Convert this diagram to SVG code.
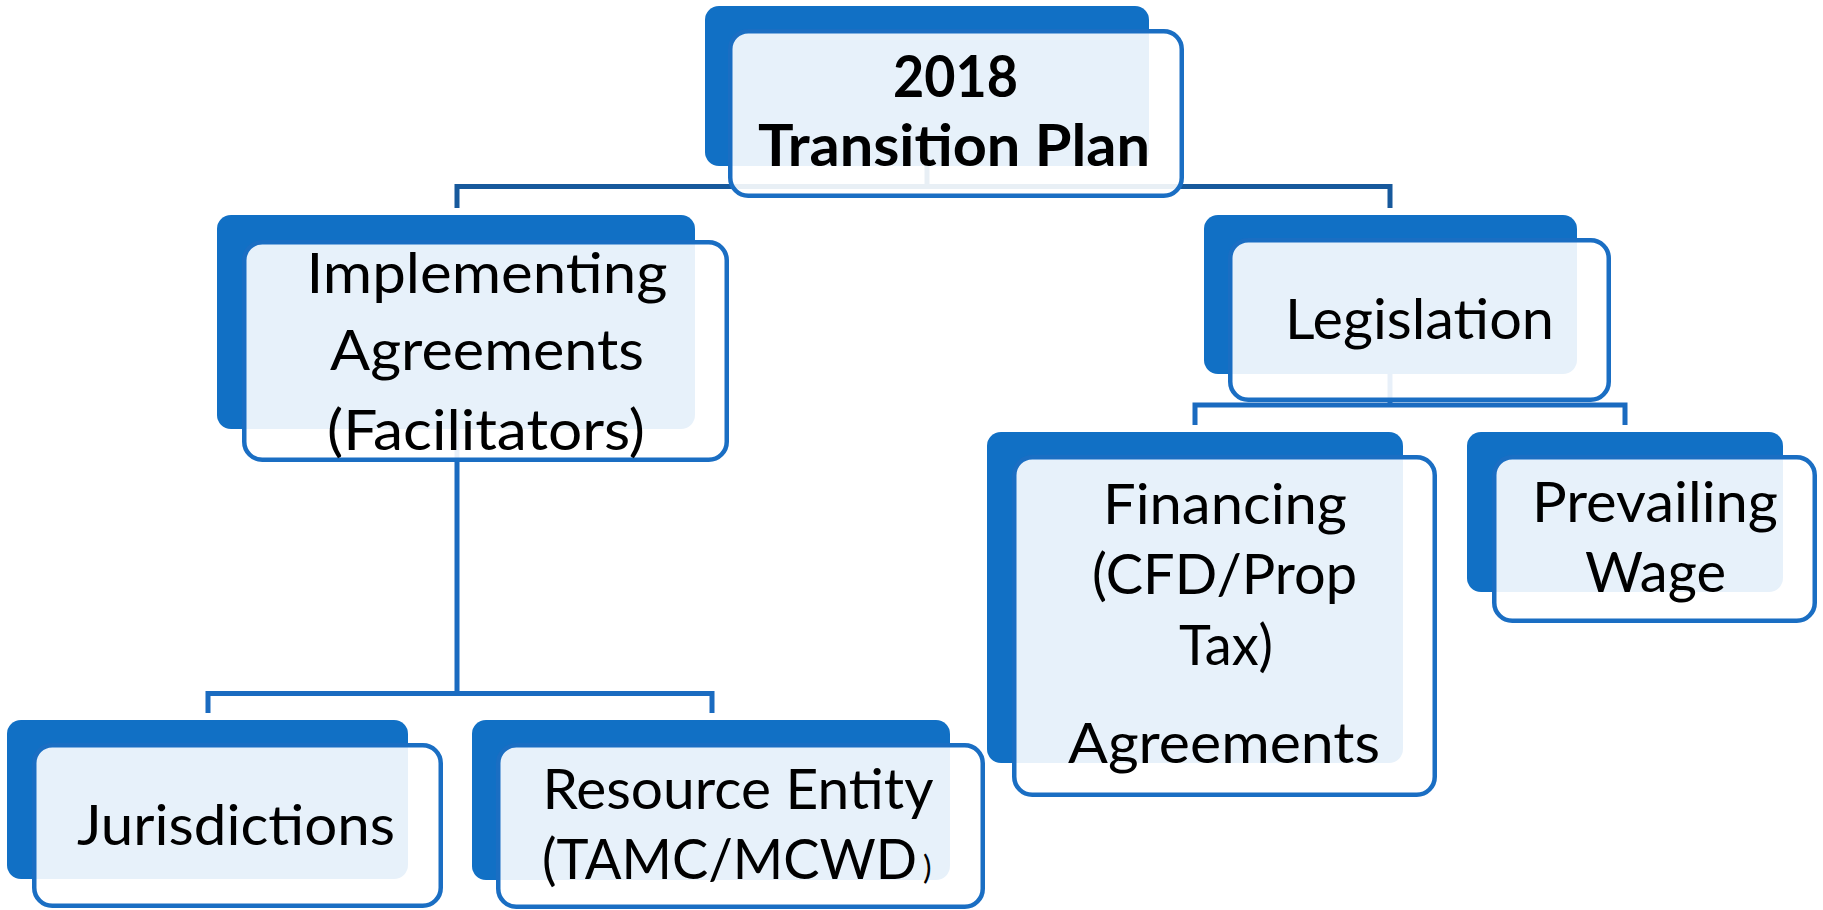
<svg xmlns="http://www.w3.org/2000/svg" width="1823" height="910" viewBox="0 0 1823 910">
<style>
.bg{fill:#ffffff}
.dark{fill:#1170C5}
.lite{fill:#ffffff;fill-opacity:0.9;stroke:#1A6EC3;stroke-width:4.5}
.t{font-family:Lato,'Open Sans',sans-serif;font-size:56px;fill:#000;text-anchor:middle}
.tb{font-weight:bold;font-size:58px}
.c1{fill:none;stroke:#17599C;stroke-width:5}
.c2{fill:none;stroke:#1A6BC0;stroke-width:5}
</style>
<rect class="bg" x="0" y="0" width="1823" height="910"/>
<g id="connectors">
<path class="c1" d="M927,166 V186.5 M457,208 V186.5 H1390 V208"/>
<path class="c2" d="M1390,374 V405 M1195,425 V405 H1625 V425"/>
<path class="c2" d="M457,429 V693.5 M208,713 V693.5 H712 V713"/>
</g>
<g id="node-plan">
<rect class="dark" x="705" y="6" width="444" height="160" rx="14"/>
<rect class="lite" x="730.25" y="31.25" width="451.5" height="164.5" rx="18"/>
<text class="t tb" x="955.5" y="97" textLength="125" lengthAdjust="spacingAndGlyphs">2018</text>
<text class="t tb" x="954" y="166" textLength="392" lengthAdjust="spacingAndGlyphs">Transition Plan</text>
</g>
<g id="node-implementing">
<rect class="dark" x="217" y="215" width="478" height="214" rx="14"/>
<rect class="lite" x="244.25" y="242.25" width="482.5" height="217.5" rx="18"/>
<text class="t" x="487" y="293" textLength="361" lengthAdjust="spacingAndGlyphs">Implementing</text>
<text class="t" x="487" y="370" textLength="314" lengthAdjust="spacingAndGlyphs">Agreements</text>
<text class="t" x="486" y="450" textLength="318" lengthAdjust="spacingAndGlyphs">(Facilitators)</text>
</g>
<g id="node-legislation">
<rect class="dark" x="1204" y="215" width="373" height="159" rx="14"/>
<rect class="lite" x="1230.25" y="240.25" width="378.5" height="159.5" rx="18"/>
<text class="t" x="1419.5" y="339" textLength="269" lengthAdjust="spacingAndGlyphs">Legislation</text>
</g>
<g id="node-financing">
<rect class="dark" x="987" y="432" width="416" height="331" rx="14"/>
<rect class="lite" x="1014.25" y="457.25" width="420.5" height="337.5" rx="18"/>
<text class="t" x="1225" y="524" font-size="53" textLength="244" lengthAdjust="spacingAndGlyphs">Financing</text>
<text class="t" x="1224.5" y="594" font-size="53" textLength="265" lengthAdjust="spacingAndGlyphs">(CFD/Prop</text>
<text class="t" x="1226" y="665" font-size="53" textLength="94" lengthAdjust="spacingAndGlyphs">Tax)</text>
<text class="t" x="1224" y="763" font-size="53" textLength="312" lengthAdjust="spacingAndGlyphs">Agreements</text>
</g>
<g id="node-prevailing">
<rect class="dark" x="1467" y="432" width="316" height="160" rx="14"/>
<rect class="lite" x="1494.25" y="457.25" width="320.5" height="163.5" rx="18"/>
<text class="t" x="1655" y="522" font-size="53" textLength="246" lengthAdjust="spacingAndGlyphs">Prevailing</text>
<text class="t" x="1655.5" y="592" font-size="53" textLength="141" lengthAdjust="spacingAndGlyphs">Wage</text>
</g>
<g id="node-jurisdictions">
<rect class="dark" x="7" y="720" width="401" height="159" rx="14"/>
<rect class="lite" x="34.25" y="745.25" width="406.5" height="160.5" rx="18"/>
<text class="t" x="236" y="845" textLength="318" lengthAdjust="spacingAndGlyphs">Jurisdictions</text>
</g>
<g id="node-resource">
<rect class="dark" x="472" y="720" width="478" height="160" rx="14"/>
<rect class="lite" x="498.25" y="745.25" width="484.5" height="161.5" rx="18"/>
<text class="t" x="738" y="809" font-size="50" textLength="391" lengthAdjust="spacingAndGlyphs">Resource Entity</text>
<text class="t" x="542" y="879" font-size="50" style="text-anchor:start"><tspan textLength="375" lengthAdjust="spacingAndGlyphs">(TAMC/MCWD</tspan><tspan font-size="32" dx="6">)</tspan></text>
</g>
</svg>
